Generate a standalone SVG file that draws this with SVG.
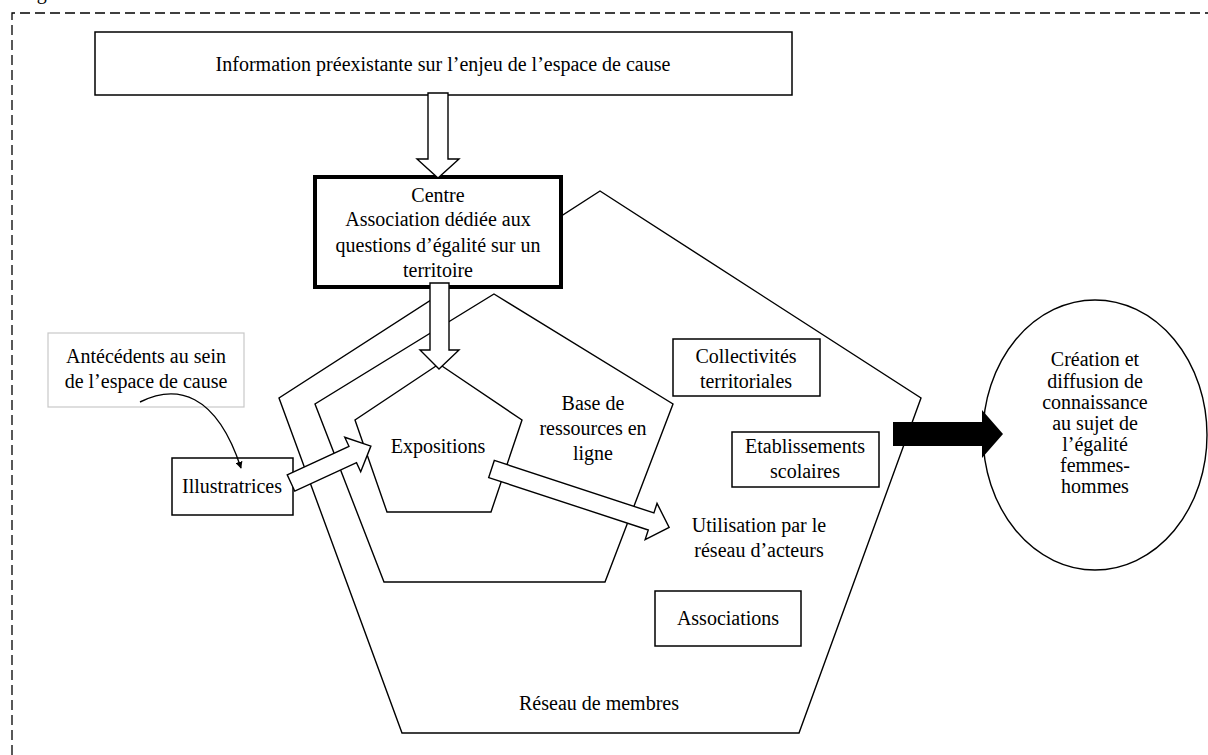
<svg xmlns="http://www.w3.org/2000/svg" width="1208" height="755" viewBox="0 0 1208 755">
<defs>
<style>
text{font-family:"Liberation Serif","DejaVu Serif",serif;font-size:20px;fill:#000;text-anchor:middle}
.ln{fill:#fff;stroke:#000;stroke-width:1.4;stroke-linejoin:miter}
.box{fill:#fff;stroke:#000;stroke-width:1.5}
.arr{fill:#fff;stroke:#000;stroke-width:1.4;stroke-linejoin:miter}
</style>
<marker id="ah" viewBox="0 0 10 10" refX="9" refY="5" markerWidth="7" markerHeight="7" markerUnits="userSpaceOnUse" orient="auto">
<path d="M0,0 L10,5 L0,10 z" fill="#000"/>
</marker>
</defs>
<rect width="1208" height="755" fill="#fff"/>
<g id="frame">
<text x="20" y="-1" style="text-anchor:start">Figure</text>
<path d="M12,755 V13 H1208" fill="none" stroke="#000" stroke-width="1.3" stroke-dasharray="10,5"/>
</g>
<g id="reseau-membres">
<polygon class="ln" points="600,191 921,398 799,733 402,733 279,398"/>
<text x="599" y="710">Réseau de membres</text>
</g>
<g id="base-ressources">
<polygon class="ln" points="494,294 673,404 605,582 384,582 315,404"/>
<text x="593" y="410">Base de</text>
<text x="593" y="435">ressources en</text>
<text x="593" y="460">ligne</text>
</g>
<g id="expositions">
<polygon class="ln" points="439,364 522,420 491,512 387,512 355,420"/>
<text x="438" y="453">Expositions</text>
</g>
<g id="information">
<rect class="box" x="95" y="32" width="697" height="63"/>
<text x="443" y="71">Information préexistante sur l’enjeu de l’espace de cause</text>
</g>
<g id="centre">
<rect x="315" y="177" width="246" height="110" fill="#fff" stroke="#000" stroke-width="4"/>
<text x="438" y="202">Centre</text>
<text x="438" y="226">Association dédiée aux</text>
<text x="438" y="252">questions d’égalité sur un</text>
<text x="438" y="277">territoire</text>
</g>
<g id="antecedents">
<rect x="48" y="333" width="196" height="74" fill="#fff" stroke="#c8c8c8" stroke-width="1.2"/>
<text x="146" y="363">Antécédents au sein</text>
<text x="146" y="388">de l’espace de cause</text>
</g>
<g id="illustratrices">
<rect class="box" x="172" y="458" width="121" height="57"/>
<text x="232" y="493">Illustratrices</text>
</g>
<g id="collectivites">
<rect class="box" x="673" y="339" width="147" height="57"/>
<text x="746" y="363">Collectivités</text>
<text x="746" y="388">territoriales</text>
</g>
<g id="etablissements">
<rect class="box" x="732" y="432" width="147" height="55"/>
<text x="805" y="453">Etablissements</text>
<text x="805" y="478">scolaires</text>
</g>
<g id="utilisation">
<text x="759" y="532">Utilisation par le</text>
<text x="759" y="557">réseau d’acteurs</text>
</g>
<g id="associations">
<rect class="box" x="655" y="591" width="146" height="55"/>
<text x="728" y="625">Associations</text>
</g>
<g id="creation">
<ellipse cx="1095" cy="435" rx="112" ry="135" fill="#fff" stroke="#000" stroke-width="1.4"/>
<text x="1095" y="366">Création et</text>
<text x="1095" y="387.5">diffusion de</text>
<text x="1095" y="409">connaissance</text>
<text x="1095" y="430">au sujet de</text>
<text x="1095" y="451">l’égalité</text>
<text x="1095" y="472">femmes-</text>
<text x="1095" y="493">hommes</text>
</g>
<g id="connectors">
<polygon class="arr" points="428,93 448,93 448,159 459,159 438,178 417,159 428,159"/>
<polygon class="arr" points="430,283 449,283 449,350 459,350 439,369 420,350 430,350"/>
<polygon class="arr" transform="translate(291,483) rotate(-24.8)" points="0,-9 68,-9 68,-19 88,0 68,19 68,9 0,9"/>
<polygon class="arr" transform="translate(491.5,469) rotate(18.2)" points="0,-9 168,-9 168,-19 187,0 168,19 168,9 0,9"/>
<polygon points="893,422 982,422 982,410 1003,434 982,458 982,446 893,446" fill="#000"/>
<path d="M140,402 C176,384 216,392 241,468" fill="none" stroke="#000" stroke-width="1.4" marker-end="url(#ah)"/>
</g>
</svg>
